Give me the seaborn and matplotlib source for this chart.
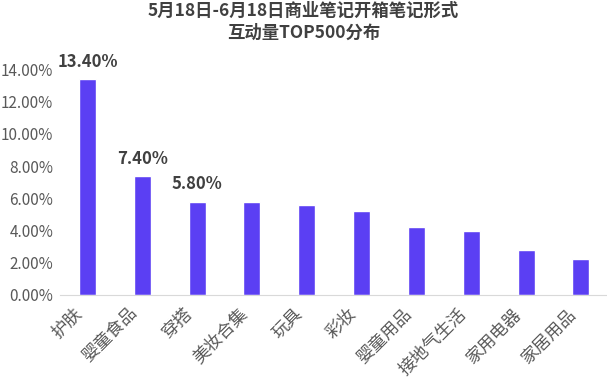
import numpy as np
import pandas as pd
import matplotlib
matplotlib.use("Agg")
import matplotlib.pyplot as plt
import matplotlib.transforms as mtransforms
import seaborn as sns

categories = ["护肤", "婴童食品", "穿搭", "美妆合集", "玩具", "彩妆", "婴童用品", "接地气生活", "家用电器", "家居用品"]
values = [13.4, 7.4, 5.8, 5.8, 5.6, 5.2, 4.2, 4.0, 2.8, 2.2]
labelled = 3  # only the first three bars carry a value label
title = "5月18日-6月18日商业笔记开箱笔记形式\n互动量TOP500分布"

sns.set_style("white")
plt.rcParams['font.family'] = ['Noto Sans CJK SC', 'DejaVu Sans']

df = pd.DataFrame({"cat": categories, "val": values})

fig = plt.figure(figsize=(6.07, 3.82), dpi=100)
ax = fig.add_axes([0.099, 0.228, 0.905, 0.611])
sns.barplot(data=df, x="cat", y="val", color="#5B3FF3", width=0.31, saturation=1, ax=ax)

ax.set_ylim(0, 14.5)
ax.set_xlim(-0.5, len(categories) - 0.48)
ax.set_yticks(np.arange(0, 15, 2))
ax.set_yticklabels([f"{t:.2f}%" for t in np.arange(0, 15, 2)], color="#595959", fontsize=11)
ax.tick_params(axis="y", length=0, pad=5)
ax.tick_params(axis="x", length=0, pad=7)
ax.set_xticks(range(len(categories)))
ax.set_xticklabels(categories, rotation=45, ha="right", rotation_mode="anchor",
                   color="#595959", fontsize=12.5)
shift = mtransforms.ScaledTranslation(-0.14, 0.0, fig.dpi_scale_trans)
for lab in ax.get_xticklabels():
    lab.set_transform(lab.get_transform() + shift)
ax.set_xlabel("")
ax.set_ylabel("")
for s in ["top", "right", "left"]:
    ax.spines[s].set_visible(False)
ax.spines["bottom"].set_color("#d9d9d9")

for i in range(labelled):
    ax.text(i, values[i] + 0.5, f"{values[i]:.2f}%", ha="center", va="bottom",
            fontsize=12, fontweight="bold", color="#404040")

fig.text(0.5, 1 - 1.5 / 382, title, ha="center", va="top", fontsize=12.5, fontweight="bold",
         color="#404040", linespacing=1.3)

fig.savefig("out.png", dpi=100)
